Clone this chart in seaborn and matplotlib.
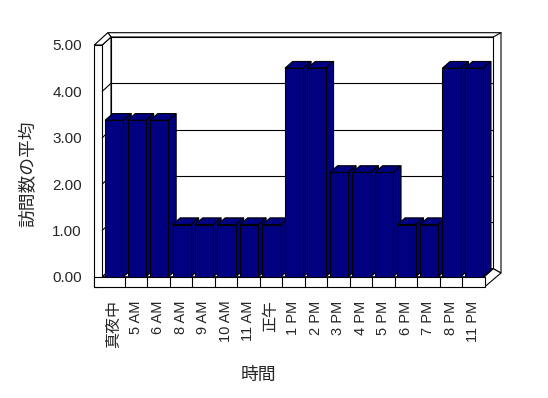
import matplotlib
matplotlib.use("Agg")
import matplotlib.pyplot as plt
import seaborn as sns
import pandas as pd
from matplotlib.patches import Polygon
from matplotlib.lines import Line2D

# ---- data ----
categories = ['真夜中', '5 AM', '6 AM', '8 AM', '9 AM', '10 AM', '11 AM', '正午',
              '1 PM', '2 PM', '3 PM', '4 PM', '5 PM', '6 PM', '7 PM', '8 PM', '11 PM']
values = [3.375, 3.375, 3.375, 1.125, 1.125, 1.125, 1.125, 1.125,
          4.5, 4.5, 2.25, 2.25, 2.25, 1.125, 1.125, 4.5, 4.5]
y_ticks = [0, 1, 2, 3, 4, 5]
y_tick_labels = ['0.00', '1.00', '2.00', '3.00', '4.00', '5.00']
x_title = '時間'
y_title = '訪問数の平均'

df = pd.DataFrame({'cat': categories, 'val': values})

sns.set_theme(style='white')
plt.rcParams['font.family'] = ['Liberation Sans', 'Noto Sans CJK JP', 'DejaVu Sans']

W, H = 548, 398
fig = plt.figure(figsize=(W / 100, H / 100), dpi=100)
fig.patch.set_facecolor('white')

X0, X1 = 102.25, 484.5
Y0, Y5 = 276.7, 45.0
ax = fig.add_axes([X0 / W, 1 - Y0 / H, (X1 - X0) / W, (Y0 - Y5) / H])
n = len(categories)
pitch = (X1 - X0) / n
ppu = (Y0 - Y5) / 5.0


def P(px, py):
    return (-0.5 + (px - X0) / pitch, (Y0 - py) / ppu)


LW = 0.8
BDX, BDY = 8.75, -8.0  # back-wall depth in px


def poly(pts, z=1, fc='white'):
    ax.add_patch(Polygon([P(*p) for p in pts], closed=True, facecolor=fc,
                         edgecolor='black', linewidth=LW, zorder=z, clip_on=False))


def line(p1, p2, z=1.5):
    a, b = P(*p1), P(*p2)
    ax.add_line(Line2D([a[0], b[0]], [a[1], b[1]], color='black', linewidth=LW,
                       zorder=z, clip_on=False))


# back wall (thickness bands + inner face)
poly([(107.8, 32.7), (501, 32.7), (501, 273), (X1 + BDX, Y0 + BDY), (X1 + BDX, Y5 + BDY),
      (X0 + BDX, Y5 + BDY)])
poly([(X0 + BDX, Y5 + BDY), (X1 + BDX, Y5 + BDY), (X1 + BDX, Y0 + BDY), (X0 + BDX, Y0 + BDY)])
line((X1 + BDX, Y5 + BDY), (501, 32.7))
# floor top
poly([(X0, Y0), (X1, Y0), (X1 + BDX, Y0 + BDY), (X0 + BDX, Y0 + BDY)])
# floor right side
poly([(X1, Y0), (X1 + BDX, Y0 + BDY), (501, 273), (X1, 287)])
# left wall inner face
poly([(X0, Y0), (X0, Y5), (X0 + BDX, Y5 + BDY), (X0 + BDX, Y0 + BDY)])
# left wall top
poly([(94.3, Y5), (X0, Y5), (X0 + BDX, Y5 + BDY), (107.8, 32.7)])
# left wall front
poly([(94.3, Y5), (X0, Y5), (X0, 287), (94.3, 287)], z=1.2)
# floor front
poly([(94.3, Y0), (X1, Y0), (X1, 287), (94.3, 287)], z=1.2)
for k in range(1, n):
    xk = X0 + k * pitch
    line((xk, Y0), (xk, 287), z=1.3)
# gridlines on back wall and diagonals on left wall
for v in y_ticks[1:-1]:
    yy = Y0 - v * ppu
    line((X0 + BDX, yy + BDY), (X1 + BDX, yy + BDY))
    line((X0, yy), (X0 + BDX, yy + BDY))

# ---- bars ----
sns.barplot(data=df, x='cat', y='val', order=categories, color='#000080',
            saturation=1, width=0.82, edgecolor='black', linewidth=LW, ax=ax)
ddx = 7.7 / pitch
ddy = 6.7 / ppu
for i, p in enumerate(ax.patches):
    if not hasattr(p, 'get_height'):
        continue
    p.set_x(p.get_x() + 0.035)
    xl = p.get_x()
    xr = xl + p.get_width()
    h = p.get_height()
    z = 2 + i * 0.01
    p.set_zorder(z + 0.005)
    ax.add_patch(Polygon([(xl, h), (xl + ddx, h + ddy), (xr + ddx, h + ddy), (xr, h)],
                         closed=True, facecolor='#000080', edgecolor='black',
                         linewidth=LW, zorder=z, clip_on=False))
    ax.add_patch(Polygon([(xr, 0), (xr, h), (xr + ddx, h + ddy), (xr + ddx, ddy)],
                         closed=True, facecolor='#000080', edgecolor='black',
                         linewidth=LW, zorder=z, clip_on=False))

ax.set_xlim(-0.5, n - 0.5)
ax.set_ylim(0, 5)
ax.patch.set_visible(False)
for s in ax.spines.values():
    s.set_visible(False)

ax.set_yticks(y_ticks)
ax.set_yticklabels(y_tick_labels, fontsize=11)
ax.set_xticks(range(n))
ax.set_xticklabels(categories, rotation=90, fontsize=10.5)
for t in ax.get_xticklabels():
    if any(ord(c) > 0x2E80 for c in t.get_text()):
        t.set_fontsize(11.5)
ax.tick_params(axis='y', direction='out', length=5.7, width=LW, color='black',
               pad=9, left=True)
ax.tick_params(axis='x', length=0, pad=17)
ax.set_xlabel('')
ax.set_ylabel('')

fig.text(28 / W, 1 - 174 / H, y_title, rotation=90, ha='center', va='center', fontsize=12.8)
fig.text(258 / W, 1 - 375.5 / H, x_title, ha='center', va='center', fontsize=12.8)

fig.savefig('out.png', dpi=100)
